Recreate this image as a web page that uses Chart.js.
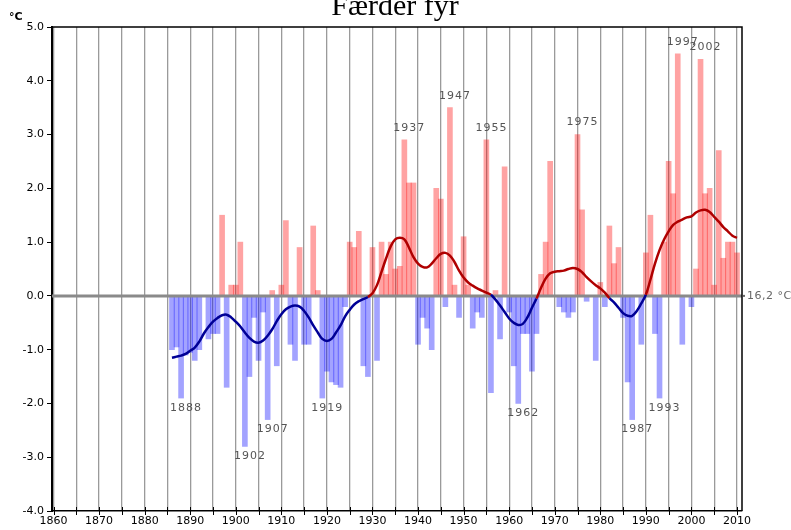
<!DOCTYPE html>
<html>
<head>
<meta charset="utf-8">
<script src="https://cdn.jsdelivr.net/npm/chart.js@4/dist/chart.umd.min.js"></script>
<style>
  html, body { margin: 0; padding: 0; background: #fff; }
  #wrap { width: 791px; height: 530px; position: relative; }
</style>
</head>
<body>
<div id="wrap"><canvas id="c" width="791" height="530"></canvas></div>
<script>
// Summer mean temperature at Færder fyr, departure from the 16,2 °C normal
const firstYear = 1886;

// yearly departures (°C), 1886–2010
const anomalies = [
  -1.0, -0.95, -1.9, -1.1,                                  // 1886-1889
  -1.05, -1.2, -1.0, 0.0, -0.8, -0.7, -0.7, 1.5, -1.7, 0.2, // 1890s
  0.2, 1.0, -2.8, -1.5, -0.4, -1.2, -0.3, -2.3, 0.1, -1.3,  // 1900s
  0.2, 1.4, -0.9, -1.2, 0.9, -0.9, -0.9, 1.3, 0.1, -1.9,    // 1910s
  -1.4, -1.6, -1.65, -1.7, -0.2, 1.0, 0.9, 1.2, -1.3, -1.5, // 1920s
  0.9, -1.2, 1.0, 0.4, 1.0, 0.5, 0.55, 2.9, 2.1, 2.1,       // 1930s
  -0.9, -0.4, -0.6, -1.0, 2.0, 1.8, -0.2, 3.5, 0.2, -0.4,   // 1940s
  1.1, 0.2, -0.6, -0.3, -0.4, 2.9, -1.8, 0.1, -0.8, 2.4,    // 1950s
  -0.3, -1.3, -2.0, -0.7, -0.7, -1.4, -0.7, 0.4, 1.0, 2.5,  // 1960s
  0.0, -0.2, -0.3, -0.4, -0.3, 3.0, 1.6, -0.1, 0.0, -1.2,   // 1970s
  0.25, -0.2, 1.3, 0.6, 0.9, -0.4, -1.6, -2.3, 0.0, -0.9,   // 1980s
  0.8, 1.5, -0.7, -1.9, 1.0, 2.5, 1.9, 4.5, -0.9, 0.0,      // 1990s
  -0.2, 0.5, 4.4, 1.9, 2.0, 0.2, 2.7, 0.7, 1.0, 1.0,        // 2000s
  0.8                                                       // 2010
];

// smoothed departure curve (°C), 1886–2010
const smoothed = [
  -1.15, -1.13, -1.11, -1.08,
  -1.02, -0.96, -0.85, -0.70, -0.58, -0.48, -0.41, -0.36, -0.35, -0.40,
  -0.48, -0.57, -0.68, -0.78, -0.85, -0.87, -0.83, -0.74, -0.62, -0.47,
  -0.34, -0.25, -0.20, -0.18, -0.20, -0.28, -0.40, -0.55, -0.68, -0.80,
  -0.84, -0.80, -0.68, -0.55, -0.38, -0.26, -0.16, -0.10, -0.06, -0.02,
  0.05, 0.20, 0.45, 0.70, 0.92, 1.05, 1.08, 1.05, 0.90, 0.72,
  0.60, 0.54, 0.53, 0.60, 0.70, 0.78, 0.80, 0.75, 0.63, 0.47,
  0.34, 0.25, 0.19, 0.14, 0.10, 0.06, 0.02, -0.07, -0.18, -0.30,
  -0.42, -0.50, -0.54, -0.52, -0.40, -0.22, -0.05, 0.15, 0.32, 0.42,
  0.45, 0.46, 0.47, 0.50, 0.52, 0.50, 0.44, 0.35, 0.27, 0.20,
  0.14, 0.06, -0.04, -0.12, -0.22, -0.32, -0.37, -0.37, -0.28, -0.14,
  0.02, 0.30, 0.60, 0.85, 1.05, 1.20, 1.32, 1.38, 1.42, 1.46,
  1.48, 1.55, 1.59, 1.60, 1.56, 1.47, 1.38, 1.28, 1.20, 1.12,
  1.08
];

const years = anomalies.map((_, i) => firstYear + i);

// years whose bars carry a year label
const labelledYears = [1888, 1902, 1907, 1919, 1937, 1947, 1955, 1962, 1975, 1987, 1993, 1997, 2002];

// axis ticks
const xTickYears = [];
for (let y = 1860; y <= 2010; y += 5) xTickYears.push(y);
const yTicks = [-4, -3, -2, -1, 0, 1, 2, 3, 4, 5];

const normalLabel = '16,2 °C';
const unitLabel = '°C';
const titleText = 'Færder fyr';

const RED_BAR = 'rgba(255,0,0,0.36)';
const BLUE_BAR = 'rgba(0,0,255,0.36)';
const RED_LINE = 'rgb(175,0,0)';
const BLUE_LINE = 'rgb(0,0,150)';
const TEXT_FONT = '"DejaVu Sans", Verdana, sans-serif';

const decorations = {
  id: 'decorations',
  beforeDatasetDraw(chart, args) {
    // zero line sits above the bars, below the smoothed curve
    if (chart.data.datasets[args.index].type !== 'line') return;
    const { ctx, chartArea } = chart;
    const y0 = chart.scales.y.getPixelForValue(0);
    ctx.save();
    ctx.strokeStyle = '#8a8a8a';
    ctx.lineWidth = 3;
    ctx.beginPath();
    ctx.moveTo(chartArea.left, y0);
    ctx.lineTo(chartArea.right, y0);
    ctx.stroke();
    ctx.restore();
  },
  afterDraw(chart) {
    const { ctx, chartArea } = chart;
    const xs = chart.scales.x, ys = chart.scales.y;
    ctx.save();
    // frame top and right
    ctx.strokeStyle = '#000';
    ctx.lineWidth = 1.5;
    ctx.beginPath();
    ctx.moveTo(chartArea.left, chartArea.top);
    ctx.lineTo(chartArea.right, chartArea.top);
    ctx.lineTo(chartArea.right, chartArea.bottom);
    ctx.stroke();
    // tick marks crossing the time axis
    ctx.lineWidth = 1;
    ctx.beginPath();
    xTickYears.forEach(yr => {
      const px = Math.round(xs.getPixelForValue(yr)) + 0.5;
      ctx.moveTo(px, chartArea.bottom - 4);
      ctx.lineTo(px, chartArea.bottom + 4);
    });
    ctx.stroke();
    // small dot where the zero line meets the frame
    const y0 = ys.getPixelForValue(0);
    ctx.fillStyle = '#666';
    ctx.fillRect(chartArea.right + 1, y0 - 1, 2, 2);

    // year labels on the extreme bars
    const meta = chart.getDatasetMeta(0);
    ctx.font = '11px ' + TEXT_FONT;
    ctx.letterSpacing = '1px';
    ctx.fillStyle = '#555';
    ctx.textAlign = 'center';
    ctx.textBaseline = 'middle';
    labelledYears.forEach(yr => {
      const i = years.indexOf(yr);
      const el = meta.data[i];
      const v = anomalies[i];
      const ty = v < 0 ? el.y + 10 : el.y - 12;
      ctx.fillText(String(yr), el.x + 5, ty);
    });

    // normal value at the end of the zero line
    ctx.textAlign = 'left';
    ctx.fillStyle = '#666';
    ctx.letterSpacing = '0.5px';
    ctx.font = '11px ' + TEXT_FONT;
    ctx.fillText(normalLabel, chartArea.right + 5, y0);

    // unit over the value axis
    ctx.letterSpacing = '0px';
    ctx.fillStyle = '#000';
    ctx.font = 'bold 11px ' + TEXT_FONT;
    ctx.fillText(unitLabel, 9, 17);

    // title
    ctx.font = '30px "Liberation Serif", "Times New Roman", serif';
    ctx.textAlign = 'center';
    ctx.textBaseline = 'alphabetic';
    ctx.fillText(titleText, 395, 15);
    ctx.restore();
  }
};

new Chart(document.getElementById('c'), {
  type: 'bar',
  data: {
    datasets: [
      {
        type: 'bar',
        order: 2,
        data: years.map((yr, i) => ({ x: yr, y: anomalies[i] })),
        backgroundColor: ctx => (ctx.parsed && ctx.parsed.y < 0 ? BLUE_BAR : RED_BAR),
        borderWidth: 0,
        barThickness: 5,
        grouped: false
      },
      {
        type: 'line',
        order: 1,
        data: years.map((yr, i) => ({ x: yr, y: smoothed[i] })),
        borderWidth: 2.5,
        pointRadius: 0,
        tension: 0.4,
        fill: false,
        borderColor: BLUE_LINE,
        segment: {
          borderColor: ctx => ((ctx.p0.parsed.y + ctx.p1.parsed.y) / 2 >= 0 ? RED_LINE : BLUE_LINE)
        }
      }
    ]
  },
  options: {
    responsive: false,
    animation: false,
    layout: { padding: { top: 27, right: 49, left: 0, bottom: 0 } },
    plugins: { legend: { display: false }, tooltip: { enabled: false }, title: { display: false } },
    scales: {
      x: {
        type: 'linear',
        offset: false,
        min: 1859.67,
        max: 2011.1,
        afterBuildTicks: s => { s.ticks = xTickYears.map(v => ({ value: v })); },
        afterFit: s => { s.height = 19; },
        ticks: {
          autoSkip: false,
          maxRotation: 0,
          padding: 4,
          color: '#000',
          font: { family: TEXT_FONT, size: 11 },
          callback: v => (v % 10 === 0 ? String(v) : '')
        },
        grid: { offset: false, color: '#9a9a9a', lineWidth: 1.3, drawTicks: false },
        border: { display: true, color: '#000', width: 1.5 }
      },
      y: {
        min: -4,
        max: 5,
        afterBuildTicks: s => { s.ticks = yTicks.map(v => ({ value: v })); },
        afterFit: s => { s.width = 52; },
        ticks: {
          padding: 3,
          color: '#000',
          font: { family: TEXT_FONT, size: 11 },
          callback: v => Number(v).toFixed(1)
        },
        grid: { drawOnChartArea: false, drawTicks: true, tickLength: 5, color: '#000', lineWidth: 1 },
        border: { display: true, color: '#000', width: 2 }
      }
    }
  },
  plugins: [decorations]
});
</script>
</body>
</html>
